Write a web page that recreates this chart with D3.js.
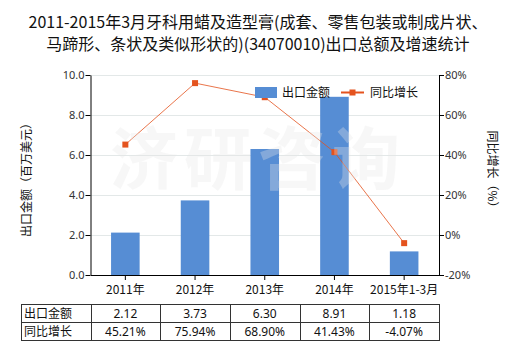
<!DOCTYPE html>
<html>
<head>
<meta charset="utf-8">
<script src="https://cdn.jsdelivr.net/npm/d3@7"></script>
<style>
  html, body { margin: 0; padding: 0; background: #fff; }
  svg { display: block; }
  text { font-family: "Noto Sans CJK SC", "Noto Sans", sans-serif; }
</style>
</head>
<body>
<svg id="chart" width="520" height="350"></svg>
<script>
// Export value (million USD) and year-on-year growth (%)
const categories = ["2011年", "2012年", "2013年", "2014年", "2015年1-3月"];
const exportValues = [2.12, 3.73, 6.30, 8.91, 1.18];
const growthRates = [45.21, 75.94, 68.90, 41.43, -4.07];
const leftTicks = [0, 2, 4, 6, 8, 10];
const rightTicks = [-20, 0, 20, 40, 60, 80];
const titleLines = [
  "2011-2015年3月牙科用蜡及造型膏(成套、零售包装或制成片状、",
  "马蹄形、条状及类似形状的)(34070010)出口总额及增速统计"
];
const seriesNames = ["出口金额", "同比增长"];

const barColor = "#568dd4";
const lineColor = "#e4531e";
const textColor = "#333";

const svg = d3.select("#chart");
const plot = { left: 90.5, right: 439, top: 75, bottom: 275 };

const x = d3.scaleBand().domain(categories).range([plot.left, plot.right]).padding(0);
const yL = d3.scaleLinear().domain([0, 10]).range([plot.bottom, plot.top]);
const yR = d3.scaleLinear().domain([-20, 80]).range([plot.bottom, plot.top]);

// Title
svg.append("g").selectAll("text").data(titleLines).join("text")
  .attr("x", 258).attr("y", (d, i) => 28 + i * 22)
  .attr("text-anchor", "middle")
  .attr("font-size", 16).attr("fill", "#111")
  .text(d => d);

// Horizontal grid lines
svg.append("g").selectAll("line").data(leftTicks.filter(t => t > 0)).join("line")
  .attr("x1", plot.left).attr("x2", plot.right)
  .attr("y1", d => Math.round(yL(d)) + 0.5).attr("y2", d => Math.round(yL(d)) + 0.5)
  .attr("stroke", "#e3e8e8").attr("stroke-width", 1);

// Bars
const barW = x.bandwidth() * 0.41;
svg.append("g").selectAll("rect").data(exportValues).join("rect")
  .attr("x", (d, i) => x(categories[i]) + (x.bandwidth() - barW) / 2)
  .attr("y", d => yL(d))
  .attr("width", barW)
  .attr("height", d => yL(0) - yL(d))
  .attr("fill", barColor);

// Growth line with square markers
const cx = i => x(categories[i]) + x.bandwidth() / 2;
const line = d3.line().x((d, i) => cx(i)).y(d => yR(d));
svg.append("path").datum(growthRates)
  .attr("d", line).attr("fill", "none")
  .attr("stroke", lineColor).attr("stroke-width", 1).attr("stroke-opacity", 0.8);
svg.append("g").selectAll("rect").data(growthRates).join("rect")
  .attr("x", (d, i) => cx(i) - 3).attr("y", d => yR(d) - 3)
  .attr("width", 6).attr("height", 6)
  .attr("fill", lineColor);

// Watermark
svg.append("text")
  .attr("x", 258).attr("y", 184)
  .attr("text-anchor", "middle")
  .attr("font-size", 68).attr("font-weight", "bold")
  .attr("letter-spacing", 6)
  .attr("fill", "#e6e6e6").attr("fill-opacity", 0.32)
  .text("济研咨询");

// Axes
const axisL = d3.axisLeft(yL).tickValues(leftTicks).tickFormat(d3.format(".1f")).tickSize(5).tickSizeOuter(0);
const axisR = d3.axisRight(yR).tickValues(rightTicks).tickFormat(d => d + "%").tickSize(5).tickSizeOuter(0);
const axisB = d3.axisBottom(x).tickSize(5).tickSizeOuter(0).tickFormat(() => "");

function styleAxis(g) {
  g.select(".domain").attr("stroke", "#000");
  g.selectAll(".tick line").attr("stroke", "#000");
  g.selectAll(".tick text").attr("fill", textColor).attr("font-size", 11)
    .style("font-family", "'Noto Sans', 'DejaVu Sans', sans-serif");
}
svg.append("g").attr("transform", `translate(${plot.left},0)`).call(axisL).call(styleAxis)
  .selectAll(".tick text").attr("x", -6);
svg.append("g").attr("transform", `translate(${plot.right},0)`).call(axisR).call(styleAxis)
  .selectAll(".tick text").attr("x", 6);
svg.append("g").attr("transform", `translate(0,${plot.bottom})`).call(axisB).call(styleAxis);

// Category labels
svg.append("g").selectAll("text").data(categories).join("text")
  .attr("x", (d, i) => cx(i)).attr("y", 294)
  .attr("text-anchor", "middle").attr("font-size", 12).attr("fill", "#111")
  .text(d => d);

// Axis titles
svg.append("text")
  .attr("transform", "translate(31,177) rotate(-90)")
  .attr("text-anchor", "middle").attr("font-size", 12).attr("fill", "#111")
  .text("出口金额（百万美元）");
svg.append("text")
  .attr("transform", "translate(488,172) rotate(90)")
  .attr("text-anchor", "middle").attr("font-size", 12).attr("fill", "#111")
  .text("同比增长（%）");

// Legend
const lg = svg.append("g");
lg.append("rect").attr("x", 255).attr("y", 87).attr("width", 22).attr("height", 11).attr("fill", barColor);
lg.append("text").attr("x", 282).attr("y", 97).attr("font-size", 12).attr("fill", "#111").text(seriesNames[0]);
lg.append("line").attr("x1", 341).attr("x2", 364).attr("y1", 92.5).attr("y2", 92.5)
  .attr("stroke", lineColor).attr("stroke-width", 2);
lg.append("rect").attr("x", 349.5).attr("y", 89.5).attr("width", 6).attr("height", 6).attr("fill", lineColor);
lg.append("text").attr("x", 370).attr("y", 97).attr("font-size", 12).attr("fill", "#111").text(seriesNames[1]);

// Data table
const tableLeft = 21, rowTop = 304, rowH = 18;
const tbl = svg.append("g");
const rows = [
  { name: seriesNames[0], vals: exportValues.map(d => d.toFixed(2)) },
  { name: seriesNames[1], vals: growthRates.map(d => d.toFixed(2) + "%") }
];
const colEdges = [tableLeft, ...categories.map(c => x(c)), plot.right];
rows.forEach((r, ri) => {
  const yTop = rowTop + ri * rowH;
  tbl.append("text").attr("x", tableLeft + 3).attr("y", yTop + 13.5)
    .attr("font-size", 12).attr("fill", "#111").text(r.name);
  r.vals.forEach((v, i) => {
    tbl.append("text").attr("x", cx(i)).attr("y", yTop + 14)
      .attr("text-anchor", "middle").attr("font-size", 12).attr("fill", "#111")
      .style("font-family", "'Noto Sans', 'DejaVu Sans', sans-serif")
      .text(v);
  });
});
// Table grid
[0, 1, 2].forEach(k => {
  tbl.append("line").attr("x1", tableLeft).attr("x2", plot.right)
    .attr("y1", rowTop + k * rowH + 0.5).attr("y2", rowTop + k * rowH + 0.5)
    .attr("stroke", "#333");
});
colEdges.forEach(xe => {
  const xx = Math.round(xe) + 0.5;
  tbl.append("line").attr("x1", xx).attr("x2", xx)
    .attr("y1", rowTop).attr("y2", rowTop + 2 * rowH + 1)
    .attr("stroke", "#333");
});
</script>
</body>
</html>
